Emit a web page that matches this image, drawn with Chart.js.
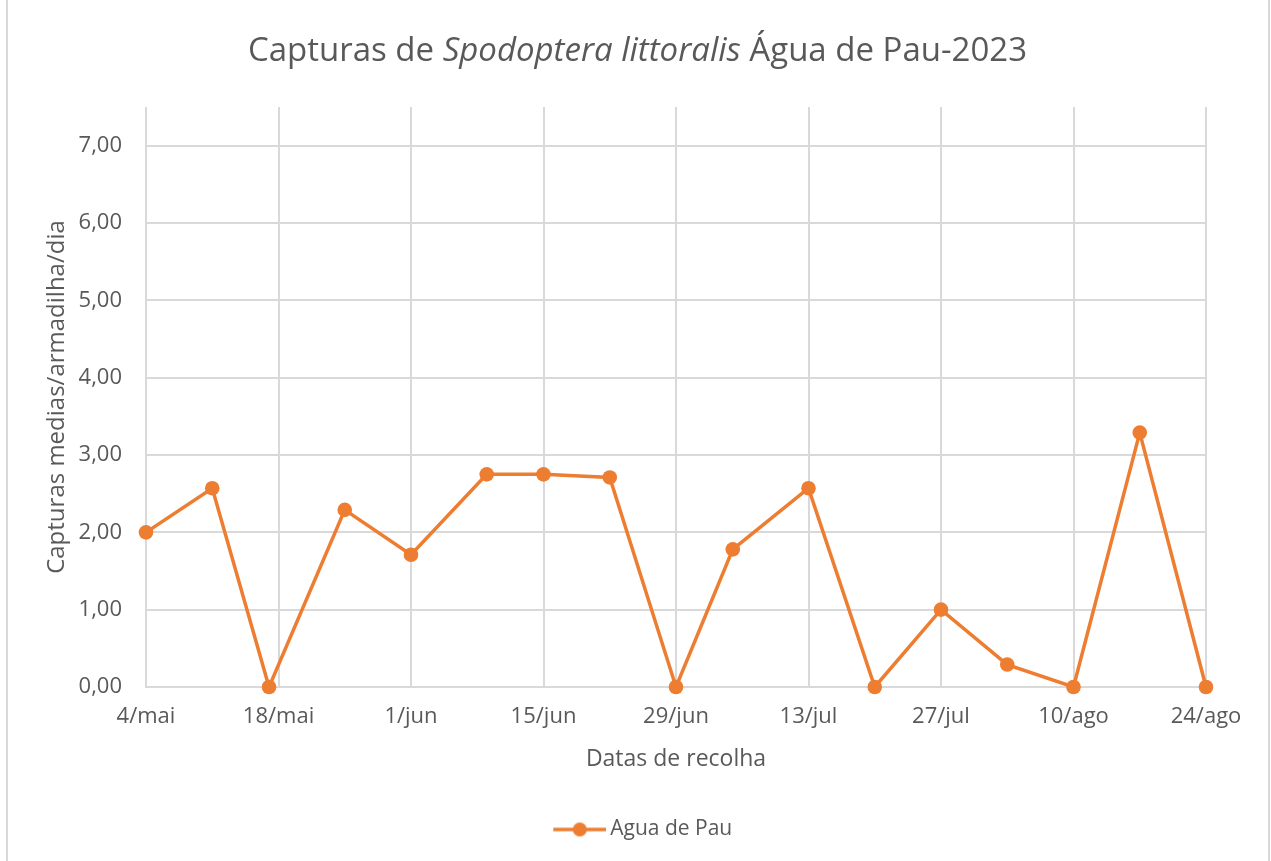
<!DOCTYPE html>
<html>
<head>
<meta charset="utf-8">
<script src="https://cdn.jsdelivr.net/npm/chart.js@4"></script>
<style>
  body { margin: 0; background: #fff; }
  #wrap { position: relative; width: 1271px; height: 861px; }
</style>
</head>
<body>
<div id="wrap"><canvas id="grafico" width="1271" height="861"></canvas></div>
<script>
// datas de recolha e capturas medias por armadilha por dia
const datas = ['2023-05-04', '2023-05-11', '2023-05-17', '2023-05-25', '2023-06-01', '2023-06-09',
               '2023-06-15', '2023-06-22', '2023-06-29', '2023-07-05', '2023-07-13', '2023-07-20',
               '2023-07-27', '2023-08-03', '2023-08-10', '2023-08-17', '2023-08-24'];
const capturas = [2.00, 2.57, 0.00, 2.29, 1.71, 2.75, 2.75, 2.71, 0.00, 1.78, 2.57, 0.00, 1.00, 0.29, 0.00, 3.29, 0.00];
const serie = 'Agua de Pau';
const meses = ['jan', 'fev', 'mar', 'abr', 'mai', 'jun', 'jul', 'ago', 'set', 'out', 'nov', 'dez'];
const inicio = '2023-05-04';
const fim = '2023-08-24';

const DIA = 86400000;
const t0 = Date.parse(inicio);
function diaDe(s) { return Math.round((Date.parse(s) - t0) / DIA); }
function rotulo(d) {
    const dt = new Date(t0 + d * DIA);
    return dt.getUTCDate() + '/' + meses[dt.getUTCMonth()];
}

const laranja = '#ed7d31';
const cinza = '#595959';
const grelha = '#d9d9d9';
const fonte = "'Open Sans', sans-serif";

// icone da legenda: linha com marcador (margem a esquerda para centrar como no original)
const margem = 66;
const icone = document.createElement('canvas');
icone.width = margem + 53; icone.height = 16;
(function() {
    const c = icone.getContext('2d');
    c.strokeStyle = laranja; c.lineWidth = 3.5;
    c.beginPath(); c.moveTo(margem, 8); c.lineTo(margem + 53, 8); c.stroke();
    c.fillStyle = laranja;
    c.beginPath(); c.arc(margem + 26.5, 8, 7, 0, Math.PI * 2); c.fill();
})();

// titulo com parte em italico + moldura
const tituloPlugin = {
    id: 'tituloMisto',
    beforeDraw(chart) {
        const ctx = chart.ctx;
        ctx.save();
        ctx.strokeStyle = grelha; ctx.lineWidth = 2;
        ctx.beginPath();
        ctx.moveTo(7, 0); ctx.lineTo(7, 861);
        ctx.moveTo(1269, 0); ctx.lineTo(1269, 861);
        ctx.stroke();
        ctx.restore();
    },
    afterDraw(chart) {
        const ctx = chart.ctx;
        const partes = [
            ['Capturas de ', 'normal'],
            ['Spodoptera littoralis', 'italic'],
            [' Água de Pau-2023', 'normal']
        ];
        ctx.save();
        ctx.fillStyle = cinza;
        ctx.textBaseline = 'alphabetic';
        let total = 0;
        partes.forEach(p => { ctx.font = p[1] + ' 33px ' + fonte; total += ctx.measureText(p[0]).width; });
        let x = 637.5 - total / 2;
        partes.forEach(p => {
            ctx.font = p[1] + ' 33px ' + fonte;
            ctx.fillText(p[0], x, 61);
            x += ctx.measureText(p[0]).width;
        });
        ctx.restore();
    }
};

const ctx = document.getElementById('grafico').getContext('2d');
new Chart(ctx, {
    type: 'line',
    data: {
        datasets: [{
            label: serie,
            data: datas.map((d, i) => ({ x: diaDe(d), y: capturas[i] })),
            borderColor: laranja,
            backgroundColor: laranja,
            borderWidth: 3.5,
            pointRadius: 7.3,
            pointHoverRadius: 7.3,
            pointBackgroundColor: laranja,
            pointBorderWidth: 0,
            pointStyle: 'circle',
            tension: 0,
            fill: false,
            clip: false
        }]
    },
    options: {
        responsive: false,
        animation: false,
        layout: { padding: { top: 107, right: 65, left: 20, bottom: 11 } },
        plugins: {
            title: { display: false },
            tooltip: { enabled: false },
            legend: {
                position: 'bottom',
                labels: {
                    usePointStyle: true,
                    pointStyle: icone,
                    pointStyleWidth: margem + 40,
                    color: cinza,
                    font: { family: fonte, size: 21 },
                    padding: 10,
                    generateLabels(chart) {
                        return [{ text: serie, pointStyle: icone, fillStyle: laranja, strokeStyle: laranja, lineWidth: 0, fontColor: cinza, datasetIndex: 0 }];
                    }
                }
            }
        },
        scales: {
            x: {
                type: 'linear',
                min: diaDe(inicio),
                max: diaDe(fim),
                afterFit(scale) { scale.height = 122; },
                grid: { color: grelha, lineWidth: 2, drawTicks: false },
                border: { color: grelha, width: 2 },
                ticks: {
                    stepSize: 14,
                    padding: 17,
                    color: cinza,
                    font: { family: fonte, size: 22 },
                    maxRotation: 0,
                    callback: v => rotulo(v)
                },
                title: {
                    display: true,
                    text: 'Datas de recolha',
                    color: cinza,
                    font: { family: fonte, size: 23 },
                    padding: { top: 0, bottom: 36 }
                }
            },
            y: {
                min: 0,
                max: 7.5,
                afterFit(scale) { scale.width = 126; },
                grid: { color: grelha, lineWidth: 2, drawTicks: false },
                border: { display: false },
                ticks: {
                    stepSize: 1,
                    padding: 24,
                    color: cinza,
                    font: { family: fonte, size: 22 },
                    callback: v => (v > 7 ? null : v.toFixed(2).replace('.', ','))
                },
                title: {
                    display: true,
                    text: 'Capturas medias/armadilha/dia',
                    color: cinza,
                    font: { family: fonte, size: 24 },
                    padding: { top: 23, bottom: 0 }
                }
            }
        }
    },
    plugins: [tituloPlugin]
});
</script>
</body>
</html>
